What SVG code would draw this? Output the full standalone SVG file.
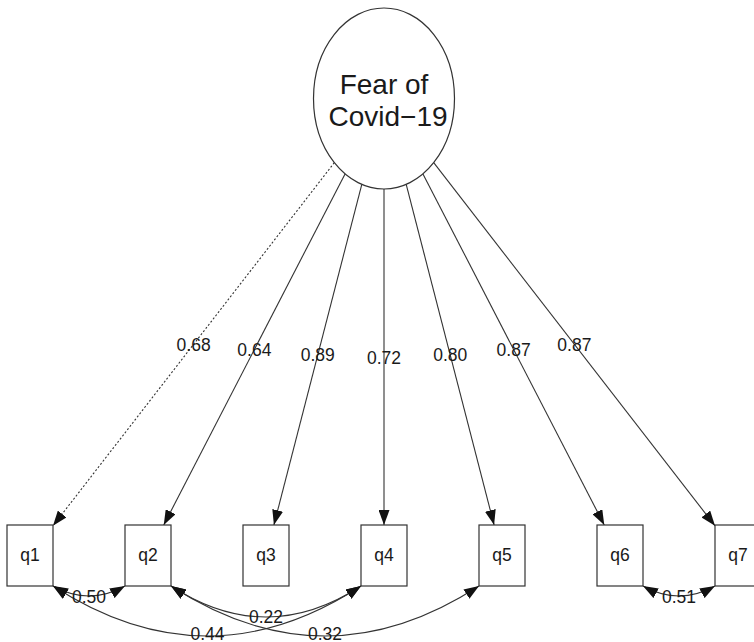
<svg xmlns="http://www.w3.org/2000/svg" width="754" height="642" viewBox="0 0 754 642">
<defs>
<marker id="ah" markerUnits="userSpaceOnUse" markerWidth="15" markerHeight="11" refX="15" refY="5.5" orient="auto-start-reverse" viewBox="0 0 15 11">
<path d="M0,0 L15,5.5 L0,11 z" fill="#111"/>
</marker>
<style>
.nd{fill:#fff;stroke:#333;stroke-width:1.2}
.lbl{font-family:"Liberation Sans",Arial,sans-serif;font-size:17.5px;fill:#1a1a1a;text-anchor:middle}
.big{font-family:"Liberation Sans",Arial,sans-serif;font-size:28px;fill:#1a1a1a;text-anchor:middle}
.e{fill:none;stroke:#333;stroke-width:1.1}
.one{marker-end:url(#ah)}
.two{marker-start:url(#ah);marker-end:url(#ah)}
.dot{stroke-dasharray:2 2}
</style>
</defs>
<rect width="754" height="642" fill="#fff"/>
<g id="connectors">
<line class="e one dot" x1="334.3" y1="162.7" x2="53" y2="525.8"/>
<line class="e one" x1="345.05" y1="173.9" x2="163.75" y2="525"/>
<line class="e one" x1="361.8" y1="184.4" x2="273.9" y2="525"/>
<line class="e one" x1="384" y1="189" x2="384" y2="525"/>
<line class="e one" x1="406.2" y1="184.4" x2="494.1" y2="525"/>
<line class="e one" x1="422.95" y1="173.9" x2="604.25" y2="525"/>
<line class="e one" x1="433.7" y1="162.7" x2="715" y2="525.8"/>
<path class="e two" d="M53,586 Q89,606 125,586"/>
<path class="e two" d="M53,586 Q207.5,686 361,586"/>
<path class="e two" d="M171,586 Q266,648 361,586"/>
<path class="e two" d="M171,586 Q325,686 479,586"/>
<path class="e two" d="M643,586 Q679,606 715,586"/>
<text class="lbl" x="193.6" y="350.5">0.68</text>
<text class="lbl" x="254.4" y="356">0.64</text>
<text class="lbl" x="317.8" y="361">0.89</text>
<text class="lbl" x="384" y="363.5">0.72</text>
<text class="lbl" x="450.2" y="361">0.80</text>
<text class="lbl" x="513.6" y="356">0.87</text>
<text class="lbl" x="574.4" y="350.5">0.87</text>
<text class="lbl" x="89" y="603">0.50</text>
<text class="lbl" x="207.5" y="640">0.44</text>
<text class="lbl" x="266" y="623">0.22</text>
<text class="lbl" x="325" y="640">0.32</text>
<text class="lbl" x="679" y="603">0.51</text>
</g>
<g id="fear"><ellipse class="nd" cx="384" cy="98.5" rx="70.5" ry="90.5"/><text class="big" x="384" y="94">Fear of</text><text class="big" x="388" y="126">Covid−19</text></g>
<g id="q1"><rect class="nd" x="7" y="525" width="46" height="61"/><text class="lbl" x="30" y="561">q1</text></g>
<g id="q2"><rect class="nd" x="125" y="525" width="46" height="61"/><text class="lbl" x="148" y="561">q2</text></g>
<g id="q3"><rect class="nd" x="243" y="525" width="46" height="61"/><text class="lbl" x="266" y="561">q3</text></g>
<g id="q4"><rect class="nd" x="361" y="525" width="46" height="61"/><text class="lbl" x="384" y="561">q4</text></g>
<g id="q5"><rect class="nd" x="479" y="525" width="46" height="61"/><text class="lbl" x="502" y="561">q5</text></g>
<g id="q6"><rect class="nd" x="597" y="525" width="46" height="61"/><text class="lbl" x="620" y="561">q6</text></g>
<g id="q7"><rect class="nd" x="715" y="525" width="46" height="61"/><text class="lbl" x="738" y="561">q7</text></g>
</svg>
